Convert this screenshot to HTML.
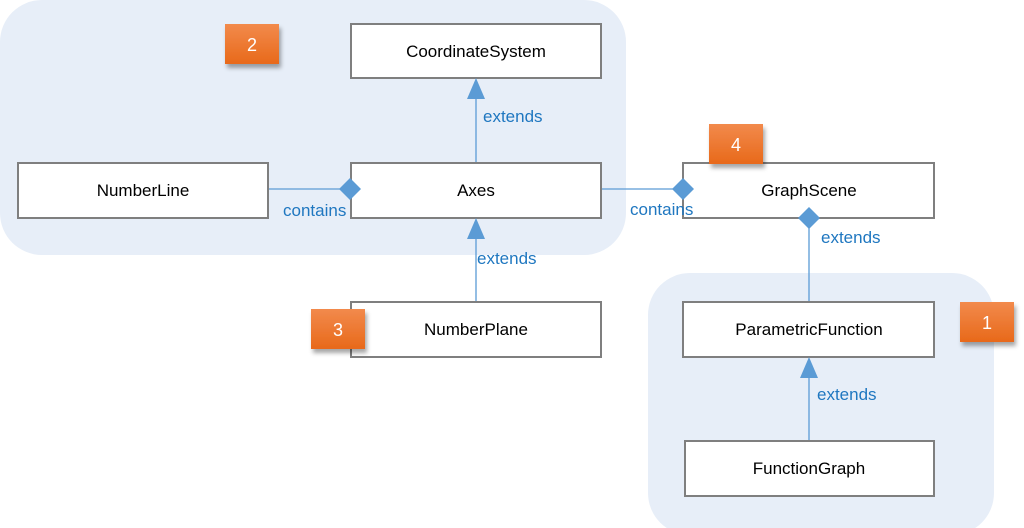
<!DOCTYPE html>
<html><head><style>body{margin:0;background:#fff}svg{display:block;font-family:"Liberation Sans",sans-serif}</style></head>
<body>
<svg width="1024" height="528" viewBox="0 0 1024 528" xmlns="http://www.w3.org/2000/svg">
<defs>
<linearGradient id="og" x1="0" y1="0" x2="0" y2="1"><stop offset="0" stop-color="#f28a4c"/><stop offset="1" stop-color="#e8691a"/></linearGradient>
<filter id="sh" x="-30%" y="-30%" width="160%" height="170%"><feDropShadow dx="2" dy="4" stdDeviation="2" flood-color="#000" flood-opacity="0.35"/></filter>
</defs>
<rect x="0" y="0" width="626" height="255" rx="42" fill="#e7eef8"/>
<rect x="648" y="273" width="346" height="262" rx="42" fill="#e7eef8"/>
<g stroke="#5b9bd5" stroke-width="1.3" fill="none">
<line x1="476" y1="98" x2="476" y2="163"/>
<line x1="476" y1="238" x2="476" y2="302"/>
<line x1="809" y1="377" x2="809" y2="441"/>
<line x1="268" y1="189" x2="340" y2="189"/>
<line x1="601" y1="189" x2="673" y2="189"/>
<line x1="809" y1="228" x2="809" y2="302"/>
</g>
<g fill="#fff" stroke="#7f7f7f" stroke-width="2">
<rect x="351" y="24" width="250" height="54"/>
<rect x="18" y="163" width="250" height="55"/>
<rect x="351" y="163" width="250" height="55"/>
<rect x="683" y="163" width="251" height="55"/>
<rect x="351" y="302" width="250" height="55"/>
<rect x="683" y="302" width="251" height="55"/>
<rect x="685" y="441" width="249" height="55"/>
</g>
<g fill="#5b9bd5">
<polygon points="476,78 467,99 485,99"/>
<polygon points="476,218 467,239 485,239"/>
<polygon points="809,357 800,378 818,378"/>
<polygon points="350,178 361,189 350,200 339,189"/>
<polygon points="683,178 694,189 683,200 672,189"/>
<polygon points="809,207 820,218 809,229 798,218"/>
</g>
<g font-size="17" fill="#000" text-anchor="middle">
<text x="476" y="57">CoordinateSystem</text>
<text x="143" y="196">NumberLine</text>
<text x="476" y="196">Axes</text>
<text x="809" y="196">GraphScene</text>
<text x="476" y="335">NumberPlane</text>
<text x="809" y="335">ParametricFunction</text>
<text x="809" y="474">FunctionGraph</text>
</g>
<g font-size="17" fill="#1f77c0">
<text x="483" y="122">extends</text>
<text x="477" y="264">extends</text>
<text x="821" y="243">extends</text>
<text x="817" y="400">extends</text>
<text x="283" y="216">contains</text>
<text x="630" y="215">contains</text>
</g>
<g filter="url(#sh)">
<rect x="225" y="24" width="54" height="40" fill="url(#og)"/>
<rect x="709" y="124" width="54" height="40" fill="url(#og)"/>
<rect x="311" y="309" width="54" height="40" fill="url(#og)"/>
<rect x="960" y="302" width="54" height="40" fill="url(#og)"/>
</g>
<g font-size="18" fill="#fff" text-anchor="middle">
<text x="252" y="51">2</text>
<text x="736" y="151">4</text>
<text x="338" y="336">3</text>
<text x="987" y="329">1</text>
</g>
</svg>
</body></html>
